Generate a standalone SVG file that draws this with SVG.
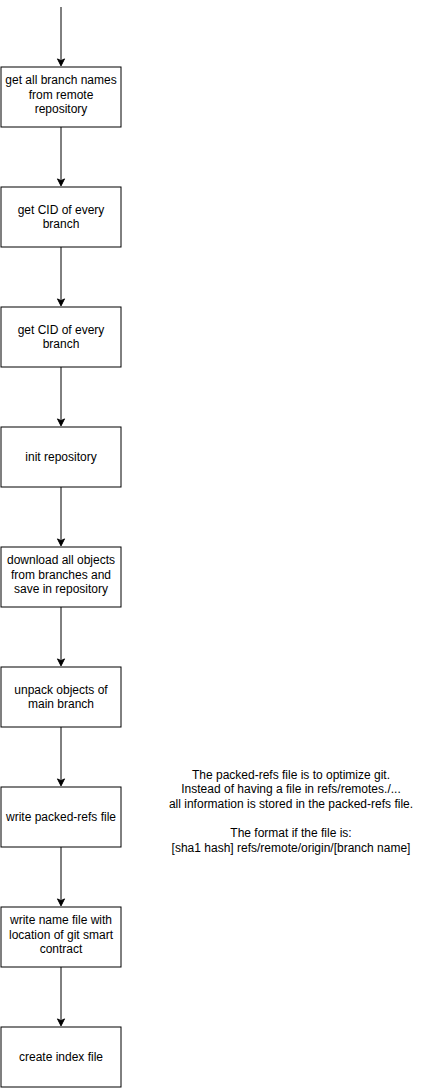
<svg xmlns="http://www.w3.org/2000/svg" width="421" height="1088" viewBox="0 0 421 1088">
<style>
.box{fill:#fff;stroke:#000;stroke-width:1}
.t{font-family:"Liberation Sans",Arial,sans-serif;font-size:12px;fill:#000;text-anchor:middle}
.c{stroke:#000;stroke-width:1;fill:none}
.h{fill:#000;stroke:#000;stroke-width:1}
</style>
<defs>
<path id="ah" d="M0,0 L-3.5,-7 L0,-5.25 L3.5,-7 Z"/>
</defs>
<rect width="421" height="1088" fill="#fff"/>
<g id="connectors">
<path class="c" d="M61,7 V60.6"/><use href="#ah" class="h" x="61" y="65.9"/>
<path class="c" d="M61,127 V180.6"/><use href="#ah" class="h" x="61" y="185.9"/>
<path class="c" d="M61,247 V300.6"/><use href="#ah" class="h" x="61" y="305.9"/>
<path class="c" d="M61,367 V420.6"/><use href="#ah" class="h" x="61" y="425.9"/>
<path class="c" d="M61,487 V540.6"/><use href="#ah" class="h" x="61" y="545.9"/>
<path class="c" d="M61,607 V660.6"/><use href="#ah" class="h" x="61" y="665.9"/>
<path class="c" d="M61,727 V780.6"/><use href="#ah" class="h" x="61" y="785.9"/>
<path class="c" d="M61,847 V900.6"/><use href="#ah" class="h" x="61" y="905.9"/>
<path class="c" d="M61,967 V1020.6"/><use href="#ah" class="h" x="61" y="1025.9"/>
</g>
<g id="n1"><rect class="box" x="1" y="67" width="120" height="60"/><text class="t" x="61" y="84">get all branch names</text><text class="t" x="61" y="99">from remote</text><text class="t" x="61" y="113">repository</text></g>
<g id="n2"><rect class="box" x="1" y="187" width="120" height="60"/><text class="t" x="61" y="214">get CID of every</text><text class="t" x="61" y="228">branch</text></g>
<g id="n3"><rect class="box" x="1" y="307" width="120" height="60"/><text class="t" x="61" y="334">get CID of every</text><text class="t" x="61" y="348">branch</text></g>
<g id="n4"><rect class="box" x="1" y="427" width="120" height="60"/><text class="t" x="61" y="461">init repository</text></g>
<g id="n5"><rect class="box" x="1" y="547" width="120" height="60"/><text class="t" x="61" y="564">download all objects</text><text class="t" x="61" y="579">from branches and</text><text class="t" x="61" y="593">save in repository</text></g>
<g id="n6"><rect class="box" x="1" y="667" width="120" height="60"/><text class="t" x="61" y="694">unpack objects of</text><text class="t" x="61" y="708">main branch</text></g>
<g id="n7"><rect class="box" x="1" y="787" width="120" height="60"/><text class="t" x="61" y="821">write packed-refs file</text></g>
<g id="n8"><rect class="box" x="1" y="907" width="120" height="60"/><text class="t" x="61" y="924">write name file with</text><text class="t" x="61" y="939">location of git smart</text><text class="t" x="61" y="953">contract</text></g>
<g id="n9"><rect class="box" x="1" y="1027" width="120" height="60"/><text class="t" x="61" y="1061">create index file</text></g>
<g id="note">
<text class="t" x="291" y="779">The packed-refs file is to optimize git.</text>
<text class="t" x="291" y="793">Instead of having a file in refs/remotes./...</text>
<text class="t" x="291" y="808">all information is stored in the packed-refs file.</text>
<text class="t" x="291" y="837">The format if the file is:</text>
<text class="t" x="291" y="852">[sha1 hash] refs/remote/origin/[branch name]</text>
</g>
</svg>
